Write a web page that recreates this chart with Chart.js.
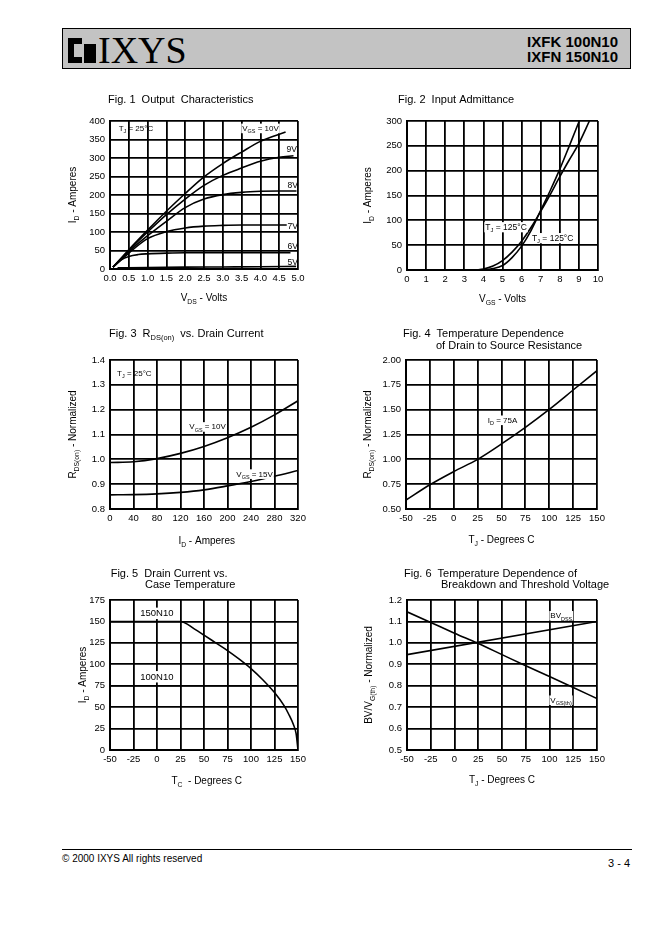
<!DOCTYPE html>
<html>
<head>
<meta charset="utf-8">
<script src="https://cdn.jsdelivr.net/npm/chart.js@4.4.0/dist/chart.umd.min.js"></script>
<style>
  body { margin: 0; background: #fff; }
  #page { position: relative; width: 662px; height: 936px; overflow: hidden; background: #fff;
          font-family: "Liberation Sans", Arial, Helvetica, sans-serif; color: #000; }
  .abs { position: absolute; }
  #header { left: 62px; top: 28px; width: 569px; height: 41px; background: #c3c3c3;
            border: 1.5px solid #000; box-sizing: border-box; }
  .blk { background: #000; }
  #brand { left: 98px; top: 31px; font: 38px/38px "Liberation Serif", "Times New Roman", serif; }
  #parts { right: 44px; top: 34px; font-weight: bold; font-size: 15px; line-height: 15.4px; text-align: right; }
  #rule { left: 62px; top: 849px; width: 570px; border-top: 1px solid #000; }
  #copy { left: 62px; top: 854px; font-size: 10px; line-height: 10px; }
  #pageno { right: 32px; top: 858px; font-size: 11px; line-height: 11px; }
  canvas { position: absolute; }
</style>
</head>
<body>
<div id="page">
  <div id="header" class="abs"></div>
  <div class="abs blk" style="left:68px;top:38px;width:14px;height:25px"></div>
  <div class="abs" style="left:74px;top:44px;width:8px;height:13px;background:#c3c3c3"></div>
  <div class="abs blk" style="left:84px;top:44px;width:12px;height:19px"></div>
  <div id="brand" class="abs">IXYS</div>
  <div id="parts" class="abs">IXFK 100N10<br>IXFN 150N10</div>

  <canvas id="fig1" width="270" height="230" style="left:60px;top:85px"></canvas>
  <canvas id="fig2" width="270" height="230" style="left:355px;top:85px"></canvas>
  <canvas id="fig3" width="270" height="230" style="left:60px;top:320px"></canvas>
  <canvas id="fig4" width="270" height="230" style="left:355px;top:320px"></canvas>
  <canvas id="fig5" width="270" height="230" style="left:60px;top:560px"></canvas>
  <canvas id="fig6" width="270" height="230" style="left:355px;top:560px"></canvas>

  <div id="rule" class="abs"></div>
  <div id="copy" class="abs">© 2000 IXYS All rights reserved</div>
  <div id="pageno" class="abs">3 - 4</div>
</div>

<script>
const FONT = '"Liberation Sans", Arial, Helvetica, sans-serif';

// Fig. 1 Output Characteristics (V_DS, I_D)
const fig1XTicks = ['0.0', '0.5', '1.0', '1.5', '2.0', '2.5', '3.0', '3.5', '4.0', '4.5', '5.0'];
const fig1YTicks = ['0', '50', '100', '150', '200', '250', '300', '350', '400'];
const fig1Vgs10X = [0.08, 0.5, 1.0, 1.5, 2.0, 2.5, 3.0, 3.5, 4.0, 4.67];
const fig1Vgs10Y = [5, 52, 105, 156, 204, 249, 285, 316, 345, 370];
const fig1Vgs9X = [0.08, 0.5, 1.0, 1.5, 2.0, 2.5, 3.0, 3.5, 4.0, 4.5, 4.88];
const fig1Vgs9Y = [5, 50, 100, 147, 189, 226, 253, 273, 291, 302, 306];
const fig1Vgs8X = [0.08, 0.5, 1.0, 1.5, 2.0, 2.5, 3.0, 3.5, 4.0, 4.5, 4.96];
const fig1Vgs8Y = [5, 47, 90, 129, 166, 189, 201, 207, 210, 211, 211];
const fig1Vgs7X = [0.08, 0.5, 1.0, 1.5, 2.0, 2.5, 3.0, 3.5, 4.0, 4.7];
const fig1Vgs7Y = [5, 43, 82, 101, 111, 116, 118, 119, 119, 119];
const fig1Vgs6X = [0.08, 0.3, 0.5, 0.75, 1.0, 1.5, 2.0, 3.0, 4.0, 4.8];
const fig1Vgs6Y = [5, 25, 34, 39, 41, 43, 44, 44, 44, 44];
const fig1Vgs5X = [0.2, 1.0, 2.0, 3.0, 4.0, 4.95];
const fig1Vgs5Y = [3, 4, 5, 5.5, 6, 7];

// Fig. 2 Input Admittance (V_GS, I_D)
const fig2XTicks = ['0', '1', '2', '3', '4', '5', '6', '7', '8', '9', '10'];
const fig2YTicks = ['0', '50', '100', '150', '200', '250', '300'];
const fig2SteepX = [3.7, 4.0, 4.5, 5.0, 5.5, 6.0, 6.5, 7.0, 7.5, 8.0, 8.5, 9.02];
const fig2SteepY = [0, 0.5, 3, 9, 25, 48, 80, 120, 160, 203, 250, 300];
const fig2FlatX = [3.6, 4.0, 4.5, 5.0, 5.5, 6.0, 6.5, 7.0, 7.5, 8.0, 8.5, 9.0, 9.55];
const fig2FlatY = [0, 2, 8, 19, 36, 58, 86, 118, 152, 188, 222, 255, 300];

// Fig. 3 R_DS(on) vs. Drain Current
const fig3XTicks = ['0', '40', '80', '120', '160', '200', '240', '280', '320'];
const fig3YTicks = ['0.8', '0.9', '1.0', '1.1', '1.2', '1.3', '1.4'];
const fig3Current = [0, 40, 80, 120, 160, 200, 240, 280, 320];
const fig3Vgs10 = [0.987, 0.99, 1.003, 1.024, 1.052, 1.087, 1.129, 1.179, 1.236];
const fig3Vgs15 = [0.857, 0.858, 0.861, 0.867, 0.877, 0.893, 0.911, 0.932, 0.955];

// Fig. 4 Temperature Dependence of Drain to Source Resistance
const fig4XTicks = ['-50', '-25', '0', '25', '50', '75', '100', '125', '150'];
const fig4YTicks = ['0.50', '0.75', '1.00', '1.25', '1.50', '1.75', '2.00'];
const fig4Temp = [-50, -25, 0, 25, 50, 75, 100, 125, 150];
const fig4Rds = [0.59, 0.744, 0.877, 1.0, 1.155, 1.322, 1.503, 1.698, 1.893];

// Fig. 5 Drain Current vs. Case Temperature
const fig5XTicks = ['-50', '-25', '0', '25', '50', '75', '100', '125', '150'];
const fig5YTicks = ['0', '25', '50', '75', '100', '125', '150', '175'];
const fig5Temp150 = [-50, 25, 40, 50, 62.5, 75, 87.5, 100, 112.5, 125, 135, 140, 145, 148, 150];
const fig5Id150 = [150, 150, 141, 134, 125, 116, 106, 95, 82, 67, 52, 42, 30, 19, 0];
const fig5Temp100 = [-50, 118];
const fig5Id100 = [75, 75];

// Fig. 6 Temperature Dependence of Breakdown and Threshold Voltage
const fig6XTicks = ['-50', '-25', '0', '25', '50', '75', '100', '125', '150'];
const fig6YTicks = ['0.5', '0.6', '0.7', '0.8', '0.9', '1.0', '1.1', '1.2'];
const fig6BvTemp = [-50, 150];
const fig6Bv = [0.945, 1.1];
const fig6VthTemp = [-50, -25, 0, 25, 50, 75, 100, 125, 150];
const fig6Vth = [1.145, 1.095, 1.045, 0.997, 0.945, 0.893, 0.843, 0.792, 0.74];

// text with _{subscript} parts
function richParts(text) {
  const parts = [];
  const re = /_\{([^}]*)\}/g;
  let last = 0, m;
  while ((m = re.exec(text))) {
    if (m.index > last) parts.push({ t: text.slice(last, m.index), sub: false });
    parts.push({ t: m[1], sub: true });
    last = re.lastIndex;
  }
  if (last < text.length) parts.push({ t: text.slice(last), sub: false });
  return parts;
}

function drawRich(ctx, text, x, cy, size, align, bg) {
  const parts = richParts(text);
  const subSize = size * 0.68;
  let total = 0;
  parts.forEach(p => {
    ctx.font = (p.sub ? subSize : size) + 'px ' + FONT;
    p.w = ctx.measureText(p.t).width;
    total += p.w;
  });
  let cx = align === 'center' ? x - total / 2 : align === 'right' ? x - total : x;
  const base = cy + size * 0.36;
  if (bg) {
    ctx.fillStyle = '#fff';
    ctx.fillRect(cx - 1, cy - size * 0.55, total + 2, size * 1.2);
    ctx.fillStyle = '#000';
  }
  ctx.textAlign = 'left';
  ctx.textBaseline = 'alphabetic';
  parts.forEach(p => {
    ctx.font = (p.sub ? subSize : size) + 'px ' + FONT;
    ctx.fillText(p.t, cx, p.sub ? base + size * 0.3 : base);
    cx += p.w;
  });
}

const sheetText = {
  id: 'sheetText',
  afterDraw(chart, args, o) {
    const { ctx, chartArea: a, scales } = chart;
    ctx.save();
    ctx.fillStyle = '#000';
    o.title.forEach(l => drawRich(ctx, l.text, a.left + l.dx, a.top + l.dy, 11, 'left'));
    drawRich(ctx, o.xTitle, (a.left + a.right) / 2 + o.xDx, a.bottom + o.xDy, 10, 'center');
    ctx.save();
    ctx.translate(a.left + o.yDx, (a.top + a.bottom) / 2);
    ctx.rotate(-Math.PI / 2);
    drawRich(ctx, o.yTitle, 0, 0, 10, 'center');
    ctx.restore();
    o.notes.forEach(n => drawRich(ctx, n.text, scales.x.getPixelForValue(n.x),
      scales.y.getPixelForValue(n.y), n.size, n.align || 'left', n.bg));
    ctx.restore();
  }
};

const Y_AXIS_W = 30, X_AXIS_H = 16;

function axisOpts(labels, isX) {
  const values = labels.map(Number);
  return {
    type: 'linear',
    position: isX ? 'bottom' : 'left',
    min: values[0],
    max: values[values.length - 1],
    afterBuildTicks: s => { s.ticks = values.map(v => ({ value: v })); },
    afterFit: s => { if (isX) s.height = X_AXIS_H; else s.width = Y_AXIS_W; },
    ticks: {
      autoSkip: false, maxRotation: 0, padding: isX ? 4 : 5, color: '#000',
      font: { family: FONT, size: 9.5 },
      callback: (v, i) => labels[i]
    },
    grid: { color: '#000', lineWidth: 1.8, drawTicks: false },
    border: { color: '#000', width: 2 }
  };
}

function series(xs, ys, straight) {
  return {
    data: xs.map((x, i) => ({ x: x, y: ys[i] })),
    showLine: true, fill: false,
    borderColor: '#000', borderWidth: 1.6,
    pointRadius: 0, pointHoverRadius: 0,
    tension: 0,
    cubicInterpolationMode: straight ? 'default' : 'monotone'
  };
}

// canvas box and plot box, in page pixels
function makeFigure(id, box, plot, xTicks, yTicks, datasets, text) {
  const pad = {
    left: plot.l - box.x - Y_AXIS_W,
    top: plot.t - box.y,
    right: box.x + box.w - plot.r,
    bottom: box.y + box.h - plot.b - X_AXIS_H
  };
  return new Chart(document.getElementById(id), {
    type: 'scatter',
    data: { datasets: datasets },
    options: {
      responsive: false, animation: false, devicePixelRatio: 1, events: [],
      layout: { padding: pad },
      plugins: { legend: { display: false }, tooltip: { enabled: false }, sheetText: text },
      scales: { x: axisOpts(xTicks, true), y: axisOpts(yTicks, false) }
    },
    plugins: [sheetText]
  });
}

makeFigure('fig1', { x: 60, y: 85, w: 270, h: 230 }, { l: 110, t: 121, r: 298, b: 269 },
  fig1XTicks, fig1YTicks, [
    series(fig1Vgs10X, fig1Vgs10Y), series(fig1Vgs9X, fig1Vgs9Y), series(fig1Vgs8X, fig1Vgs8Y),
    series(fig1Vgs7X, fig1Vgs7Y), series(fig1Vgs6X, fig1Vgs6Y), series(fig1Vgs5X, fig1Vgs5Y)
  ], {
    title: [{ text: 'Fig. 1  Output  Characteristics', dx: -2, dy: -21.5 }],
    xTitle: 'V_{DS} - Volts', xDx: 0, xDy: 28,
    yTitle: 'I_{D} - Amperes', yDx: -38,
    notes: [
      { text: 'T_{J} = 25°C', x: 0.23, y: 381, size: 8 },
      { text: 'V_{GS} = 10V', x: 4.49, y: 381, size: 8, align: 'right', bg: true },
      { text: '9V', x: 4.83, y: 324, size: 8.5, align: 'center' },
      { text: '8V', x: 4.86, y: 228, size: 8.5, align: 'center' },
      { text: '7V', x: 4.86, y: 117, size: 8.5, align: 'center' },
      { text: '6V', x: 4.86, y: 63, size: 8.5, align: 'center' },
      { text: '5V', x: 4.86, y: 18, size: 8.5, align: 'center' }
    ]
  });

makeFigure('fig2', { x: 355, y: 85, w: 270, h: 230 }, { l: 407, t: 121, r: 598, b: 270 },
  fig2XTicks, fig2YTicks, [series(fig2SteepX, fig2SteepY), series(fig2FlatX, fig2FlatY)], {
    title: [{ text: 'Fig. 2  Input Admittance', dx: -9, dy: -21.5 }],
    xTitle: 'V_{GS} - Volts', xDx: 0, xDy: 28,
    yTitle: 'I_{D} - Amperes', yDx: -40,
    notes: [
      { text: 'T_{J} = 125°C', x: 4.1, y: 87, size: 8.5, bg: true },
      { text: 'T_{J} = 125°C', x: 6.54, y: 65, size: 8.5, bg: true }
    ]
  });

makeFigure('fig3', { x: 60, y: 320, w: 270, h: 230 }, { l: 110, t: 360, r: 298, b: 509 },
  fig3XTicks, fig3YTicks, [series(fig3Current, fig3Vgs10), series(fig3Current, fig3Vgs15)], {
    title: [{ text: 'Fig. 3  R_{DS(on)}  vs. Drain Current', dx: -1, dy: -27.3 }],
    xTitle: 'I_{D} - Amperes', xDx: 2.7, xDy: 31,
    yTitle: 'R_{DS(on)} - Normalized', yDx: -38,
    notes: [
      { text: 'T_{J} = 25°C', x: 12, y: 1.349, size: 8 },
      { text: 'V_{GS} = 10V', x: 135, y: 1.132, size: 8, bg: true },
      { text: 'V_{GS} = 15V', x: 215, y: 0.942, size: 8, bg: true }
    ]
  });

makeFigure('fig4', { x: 355, y: 320, w: 270, h: 230 }, { l: 406, t: 360, r: 597, b: 509 },
  fig4XTicks, fig4YTicks, [series(fig4Temp, fig4Rds)], {
    title: [
      { text: 'Fig. 4  Temperature Dependence', dx: -3, dy: -27.3 },
      { text: 'of Drain to Source Resistance', dx: 30, dy: -15 }
    ],
    xTitle: 'T_{J} - Degrees C', xDx: 0, xDy: 30.3,
    yTitle: 'R_{DS(on)} - Normalized', yDx: -38.5,
    notes: [{ text: 'I_{D} = 75A', x: 35.7, y: 1.397, size: 8, bg: true }]
  });

makeFigure('fig5', { x: 60, y: 560, w: 270, h: 230 }, { l: 110, t: 600, r: 298, b: 750 },
  fig5XTicks, fig5YTicks, [series(fig5Temp150, fig5Id150), series(fig5Temp100, fig5Id100, true)], {
    title: [
      { text: 'Fig. 5  Drain Current vs.', dx: 0.7, dy: -27.3 },
      { text: 'Case Temperature', dx: 35, dy: -16 }
    ],
    xTitle: 'T_{C}  - Degrees C', xDx: 2.7, xDy: 30,
    yTitle: 'I_{D} - Amperes', yDx: -28,
    notes: [
      { text: '150N10', x: -17.8, y: 160, size: 9.5, bg: true },
      { text: '100N10', x: -17.8, y: 86, size: 9.5, bg: true }
    ]
  });

makeFigure('fig6', { x: 355, y: 560, w: 270, h: 230 }, { l: 407, t: 600, r: 597, b: 750 },
  fig6XTicks, fig6YTicks, [series(fig6BvTemp, fig6Bv, true), series(fig6VthTemp, fig6Vth)], {
    title: [
      { text: 'Fig. 6  Temperature Dependence of', dx: -3, dy: -27.3 },
      { text: 'Breakdown and Threshold Voltage', dx: 34, dy: -16 }
    ],
    xTitle: 'T_{J} - Degrees C', xDx: 0, xDy: 29.3,
    yTitle: 'BV/V_{G(th)} - Normalized', yDx: -39,
    notes: [
      { text: 'BV_{DSS}', x: 100.9, y: 1.128, size: 8, bg: true },
      { text: 'V_{GS(th)}', x: 100.9, y: 0.734, size: 8, bg: true }
    ]
  });
</script>
</body>
</html>
